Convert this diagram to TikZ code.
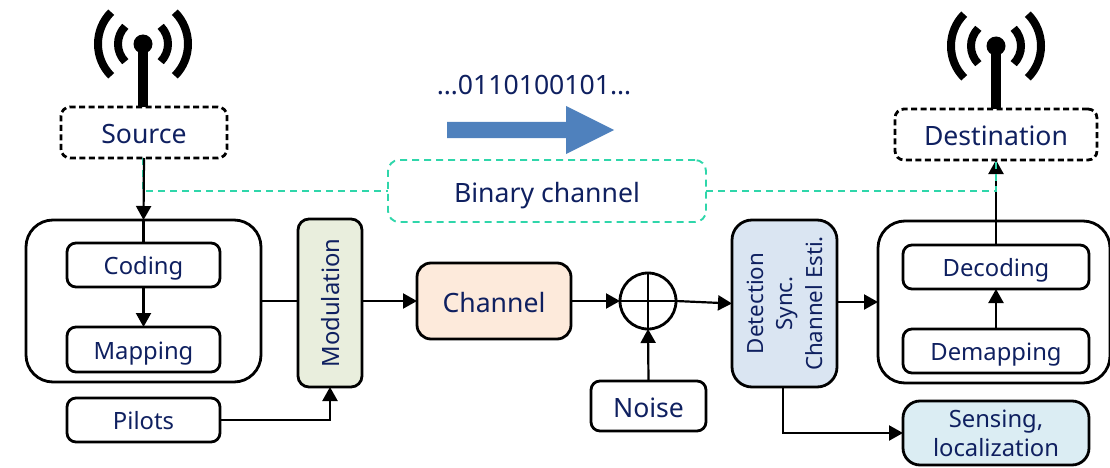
\documentclass[tikz,border=0pt]{standalone}
\usepackage{fontspec}
\setmainfont{Noto Sans}
\usetikzlibrary{arrows.meta}
\definecolor{labelblue}{HTML}{0F2060}
\definecolor{linkteal}{HTML}{2FD6AA}
\definecolor{bitblue}{HTML}{4F81BD}
\definecolor{modfill}{HTML}{E9EEDD}
\definecolor{chanfill}{HTML}{FDEADB}
\definecolor{detfill}{HTML}{DAE5F2}
\definecolor{sensefill}{HTML}{DBEDF3}
\tikzset{
  block/.style={
    draw, line width=2.8pt, rounded corners=#1, inner sep=0pt, outer sep=0pt,
    text=labelblue, align=center
  },
  block/.default={9pt},
  small label/.style={font=\fontsize{23.8}{29}\selectfont, text height=24.4pt, text depth=4.6pt},
  big label/.style={font=\fontsize{26.6}{31}\selectfont, text height=26.4pt, text depth=4.4pt},
  source box/.style={block, big label, line width=2.8pt, dash pattern=on 6pt off 3.5pt},
  link/.style={line width=2.2pt, -{Triangle[length=14pt,width=15pt]}},
  plain link/.style={line width=2.2pt},
  binary link/.style={draw=linkteal, line width=1.9pt, dash pattern=on 7pt off 5pt},
  mast/.style={line width=10pt},
  antenna/.pic={
    \fill (0,0) circle [radius=9.5];
    \draw[line width=8pt] (135:45) arc [start angle=135,end angle=225,radius=45];
    \draw[line width=8pt] (45:45) arc [start angle=45,end angle=-45,radius=45];
    \draw[line width=8pt] (135:25) arc [start angle=135,end angle=225,radius=25];
    \draw[line width=8pt] (45:25) arc [start angle=45,end angle=-45,radius=25];
  }
}
\begin{document}
\begin{tikzpicture}[x=1pt,y=-1pt]
  \useasboundingbox (0,0) rectangle (1110,468);
  % transmitter
  \node[source box, minimum width=166pt, minimum height=51pt] (Source) at (144,132.5) {Source};
  \node[block=27pt, minimum width=235pt, minimum height=162pt] (Encoder) at (143.5,301) {};
  \node[block, small label, minimum width=153pt, minimum height=44pt] (Coding) at (143.5,265) {Coding};
  \node[block, small label, minimum width=153pt, minimum height=45pt] (Mapping) at (143.5,349.5) {Mapping};
  \node[block, small label, minimum width=153pt, minimum height=44pt] (Pilots) at (143.5,420) {Pilots};
  \node[block=11pt, small label, fill=modfill, rotate=90, minimum width=168pt, minimum height=64pt] (Modulation) at (330,303) {Modulation};
  % channel
  \node[block=14pt, big label, fill=chanfill, minimum width=154pt, minimum height=76pt] (Channel) at (494,301) {Channel};
  \node[draw, circle, line width=2.8pt, minimum size=56pt, inner sep=0pt, outer sep=0pt] (Adder) at (648,301) {};
  \node[block, big label, minimum width=115pt, minimum height=50pt] (Noise) at (648.5,406) {Noise};
  \node[block=20pt, fill=detfill, rotate=90, minimum width=167pt, minimum height=105pt, font=\fontsize{22.3}{29.5}\selectfont] (Detection) at (784.5,303.5) {Detection\\Sync.\\Channel Esti.};
  % receiver
  \node[source box, minimum width=202pt, minimum height=51pt] (Destination) at (996,134.5) {Destination};
  \node[block=27pt, minimum width=232pt, minimum height=162pt] (Decoder) at (994,302) {};
  \node[block, small label, minimum width=186pt, minimum height=44pt] (Decoding) at (996,267) {Decoding};
  \node[block, small label, minimum width=186pt, minimum height=44pt] (Demapping) at (996,351) {Demapping};
  \node[block=17pt, fill=sensefill, minimum width=186pt, minimum height=64pt, font=\fontsize{23.8}{29}\selectfont] (Sensing) at (996,433) {Sensing,\\localization};
  % binary channel
  \node[block=11pt, big label, draw=linkteal, line width=1.9pt, dash pattern=on 7pt off 5pt, minimum width=318pt, minimum height=62pt] (Binary) at (547,191) {Binary channel};
  \node[text=labelblue, inner sep=0pt, font=\fontsize{26.6}{31}\selectfont] (Bits) at (534,85) {…0110100101…};
  \fill[bitblue] (447,122) -- (566,122) -- (566,106) -- (614,130) -- (566,154) -- (566,138) -- (447,138) -- cycle;
  % antennas
  \coordinate (SourceTop) at (143,44);
  \coordinate (DestinationTop) at (996,46);
  \pic at (SourceTop) {antenna};
  \pic at (DestinationTop) {antenna};
  \draw[mast] (SourceTop) -- (SourceTop |- Source.north);
  \draw[mast] (DestinationTop) -- (DestinationTop |- Destination.north);
  % connectors
  \draw[binary link] ([xshift=-1pt]Source.south) |- (Binary.west);
  \draw[link] (Source.south) -- (Encoder.north);
  \draw[plain link] (Encoder.north) -- (Coding.north);
  \draw[link] (Coding.south) -- (Mapping.north);
  \draw[plain link] (Encoder.east) -- (Modulation.north |- Encoder.east);
  \draw[link] (Pilots.east) -| (Modulation.west);
  \draw[link] (Modulation.south |- Channel.west) -- (Channel.west);
  \draw[link] (Channel.east) -- (Adder.west);
  \draw[link] (Adder.east) -- (Detection.north);
  \draw[link] (Noise.north) -- (Adder.south);
  \draw[link] (Detection.south |- Decoder.west) -- (Decoder.west);
  \draw[link] ([xshift=-1.5pt]Detection.west) |- (Sensing.west);
  \draw[link] (Demapping.north) -- (Decoding.south);
  \draw[link] (Decoding.north) -- (Destination.south);
  \draw[binary link] (Binary.east) -| (Destination.south);
  \draw[line width=2.8pt] (Adder.north) -- (Adder.south) (Adder.west) -- (Adder.east);
\end{tikzpicture}
\end{document}
